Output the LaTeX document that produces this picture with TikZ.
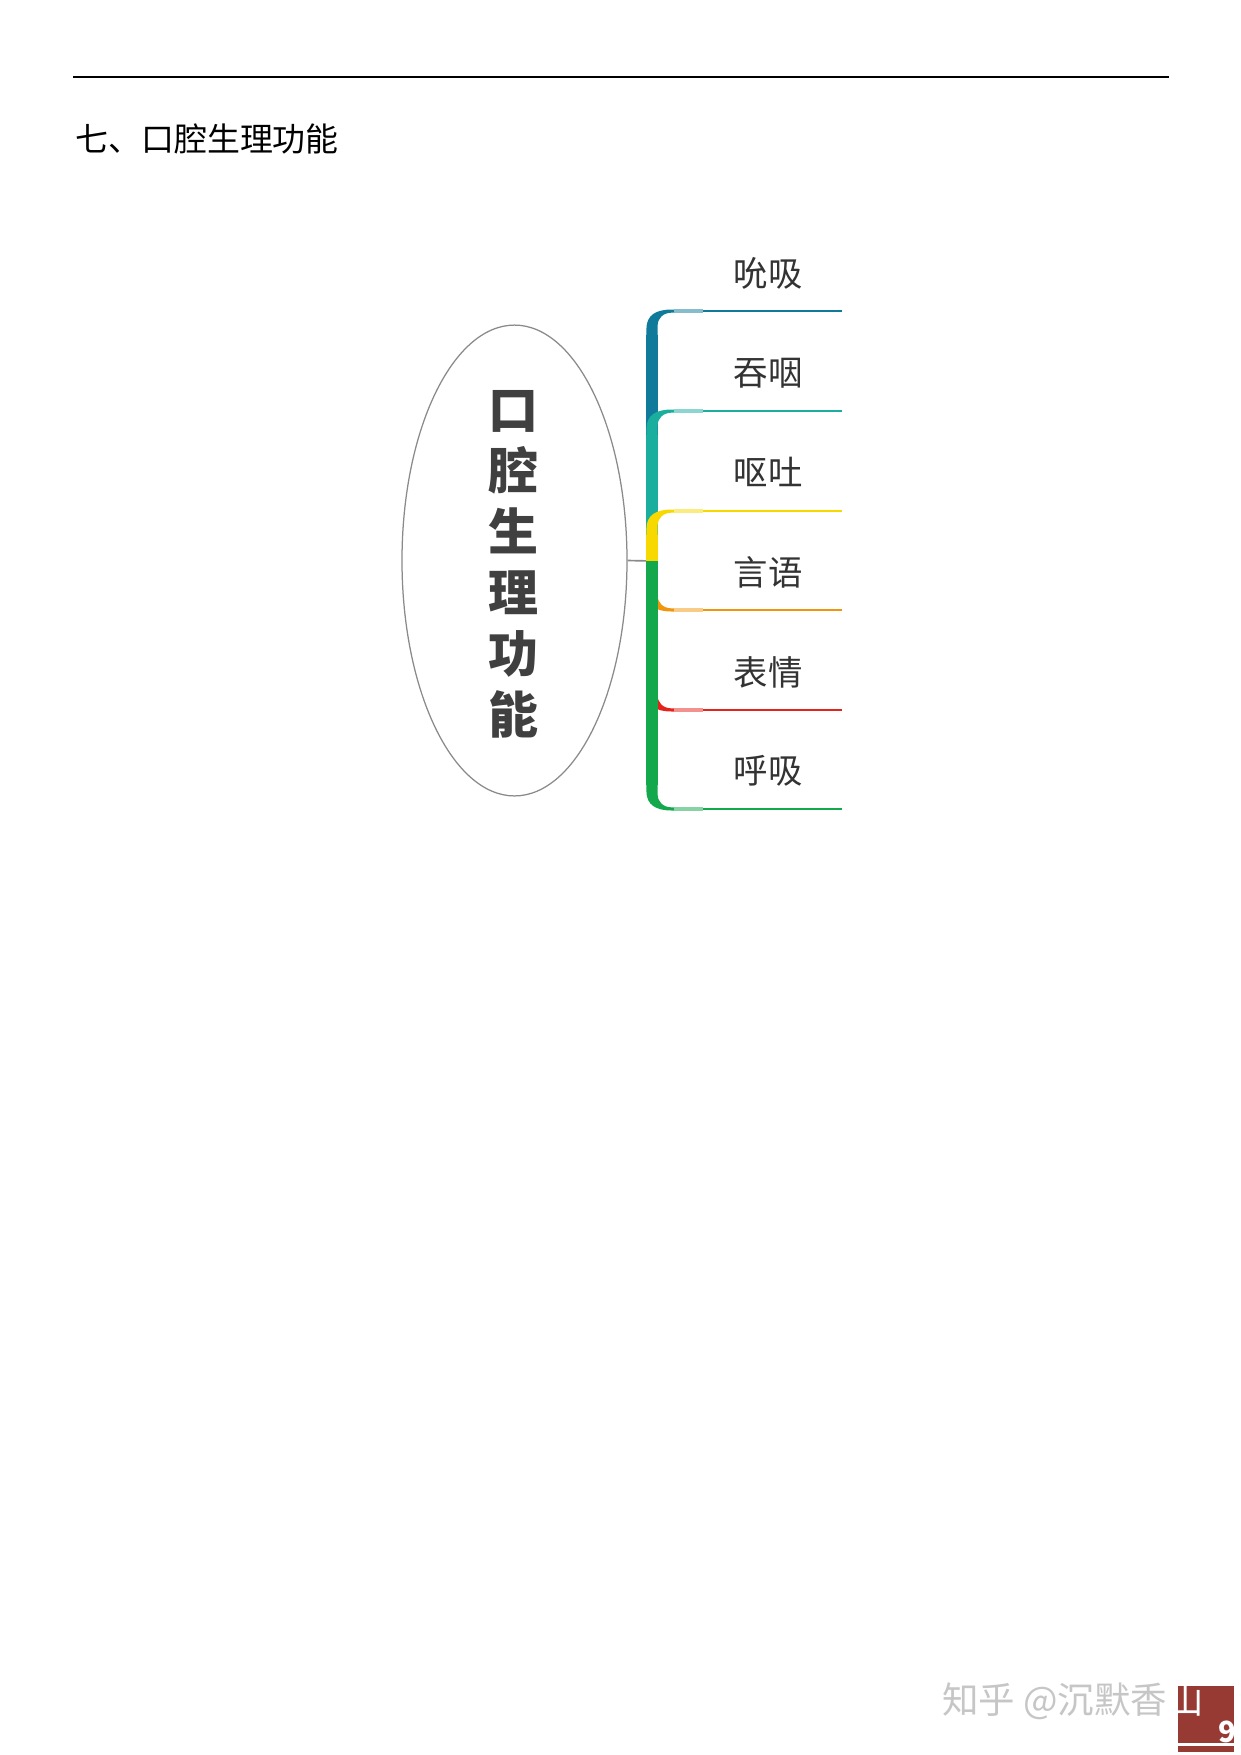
\documentclass[tikz,border=0pt]{standalone}
\usepackage{fontspec}
\setmainfont{Noto Sans CJK SC}
\usetikzlibrary{shapes.geometric}
\definecolor{cblue}{HTML}{0F7A99}
\definecolor{cteal}{HTML}{1AAE9F}
\definecolor{cyellow}{HTML}{F7D900}
\definecolor{corange}{HTML}{F0960E}
\definecolor{cred}{HTML}{E4241C}
\definecolor{cgreen}{HTML}{12A84B}
\definecolor{ellgray}{HTML}{8A8A8A}
\definecolor{darktext}{HTML}{404040}
\definecolor{lbltext}{HTML}{333333}
\definecolor{pagered}{HTML}{983A34}
\definecolor{wmgray}{HTML}{C6C6C6}
\tikzset{
  barline/.style={line width=5.3pt, color=#1},
  lightseg/.style={line width=1.7pt, color=#1!50},
  thinseg/.style={line width=0.9pt, color=#1},
  lbl/.style={inner sep=0pt, text=lbltext, font=\fontsize{16.5}{18}\selectfont},
  hubconn/.style={draw=ellgray, line width=0.8pt},
  pics/branchcorner/.style={code={
    \fill[#1] (-5.6,24) -- (-5.6,18) .. controls (-5.6,4) and (4,-1.5) .. (20,-1.5)
      -- (24,-1.5) -- (24,1.6) -- (20,1.6) .. controls (11,1.8) and (5.6,7) .. (5.6,15)
      -- (5.6,24) -- cycle;
  }}
}
\begin{document}
\begin{tikzpicture}[x=0.48pt,y=-0.48pt]
\useasboundingbox[fill=white] (0,0) rectangle (1241,1755);
% header rule and title
\coordinate (ruleL) at (73,77);
\coordinate (ruleR) at (1169,77);
\draw[line width=0.9pt] (ruleL) -- (ruleR);
\node[anchor=west, inner sep=0pt, font=\fontsize{15.8}{18}\selectfont] (title) at (75,139) {七、口腔生理功能};
% root ellipse
\node[ellipse, draw=ellgray, line width=0.6pt, minimum width=108pt, minimum height=226pt, inner sep=0pt] (root) at (514.5,560.5) {};
\node[inner sep=0pt, align=center, text=darktext, font=\fontsize{24}{29.3}\selectfont\bfseries] (roottext) at (513,564) {口\\腔\\生\\理\\功\\能};
% hub
\coordinate (hub) at (652,561);
\draw[hubconn] (root.east) -- (hub);
% label nodes
\node[lbl] (n1) at (768,273) {吮吸};
\node[lbl] (n2) at (768,373) {吞咽};
\node[lbl] (n3) at (768,472) {呕吐};
\node[lbl] (n4) at (768,572) {言语};
\node[lbl] (n5) at (768,672) {表情};
\node[lbl] (n6) at (768,771) {呼吸};
% branch coordinates: k = corner on bar, b = end of bar, s/m/u = underline points
\coordinate (k1) at (652,311); \coordinate (b1) at (652,335); \coordinate (s1) at (674,311); \coordinate (m1) at (703,311); \coordinate (u1) at (842,311);
\coordinate (k2) at (652,411); \coordinate (b2) at (652,435); \coordinate (s2) at (674,411); \coordinate (m2) at (703,411); \coordinate (u2) at (842,411);
\coordinate (k3) at (652,511); \coordinate (b3) at (652,535); \coordinate (s3) at (674,511); \coordinate (m3) at (703,511); \coordinate (u3) at (842,511);
\coordinate (k4) at (652,610); \coordinate (b4) at (652,586); \coordinate (s4) at (674,610); \coordinate (m4) at (703,610); \coordinate (u4) at (842,610);
\coordinate (k5) at (652,710); \coordinate (b5) at (652,686); \coordinate (s5) at (674,710); \coordinate (m5) at (703,710); \coordinate (u5) at (842,710);
\coordinate (k6) at (652,809); \coordinate (b6) at (652,785); \coordinate (s6) at (674,809); \coordinate (m6) at (703,809); \coordinate (u6) at (842,809);
% upper branches
\draw[barline=cblue] (hub) -- (b1); \pic at (k1) {branchcorner=cblue};
\draw[lightseg=cblue] (s1) -- (m1); \draw[thinseg=cblue] (m1) -- (u1);
\draw[barline=cteal] (hub) -- (b2); \pic at (k2) {branchcorner=cteal};
\draw[lightseg=cteal] (s2) -- (m2); \draw[thinseg=cteal] (m2) -- (u2);
\draw[barline=cyellow] (hub) -- (b3); \pic at (k3) {branchcorner=cyellow};
\draw[lightseg=cyellow] (s3) -- (m3); \draw[thinseg=cyellow] (m3) -- (u3);
% lower branches
\draw[barline=corange] (hub) -- (b4); \pic[yscale=-1] at (k4) {branchcorner=corange};
\draw[lightseg=corange] (s4) -- (m4); \draw[thinseg=corange] (m4) -- (u4);
\draw[barline=cred] (hub) -- (b5); \pic[yscale=-1] at (k5) {branchcorner=cred};
\draw[lightseg=cred] (s5) -- (m5); \draw[thinseg=cred] (m5) -- (u5);
\draw[barline=cgreen] (hub) -- (b6); \pic[yscale=-1] at (k6) {branchcorner=cgreen};
\draw[lightseg=cgreen] (s6) -- (m6); \draw[thinseg=cgreen] (m6) -- (u6);
% page box
\fill[pagered] (1178,1686) rectangle (1234,1743);
\fill[pagered] (1178,1746) rectangle (1234,1752);
\node[inner sep=0pt, text=white, font=\fontsize{14}{14}\selectfont\bfseries] (pg) at (1227,1732) {9};
% watermark
\node[anchor=west, inner sep=0pt, text=wmgray, font=\fontsize{17.5}{18}\selectfont] (wm) at (942,1701) {知乎 @沉默香{\color{white}山}};
\end{tikzpicture}
\end{document}
